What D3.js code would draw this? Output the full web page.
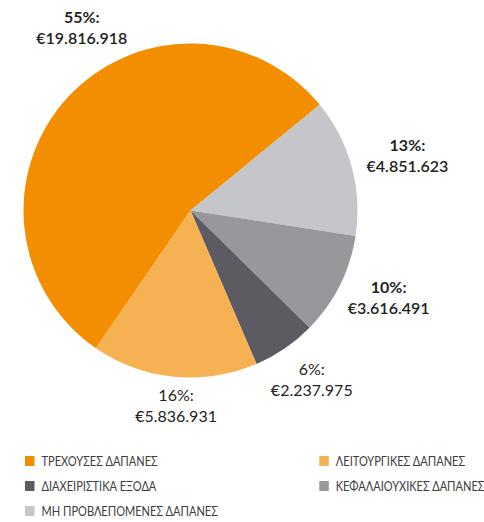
<!DOCTYPE html>
<html>
<head>
<meta charset="utf-8">
<script src="https://cdn.jsdelivr.net/npm/d3@7"></script>
<style>
  html, body { margin: 0; padding: 0; background: #ffffff; }
  svg { display: block; }
</style>
</head>
<body>
<svg id="chart" width="484" height="522"></svg>
<script>
// ---- data ----
const categories = [
  "ΤΡΕΧΟΥΣΕΣ ΔΑΠΑΝΕΣ",
  "ΜΗ ΠΡΟΒΛΕΠΟΜΕΝΕΣ ΔΑΠΑΝΕΣ",
  "ΚΕΦΑΛΑΙΟΥΧΙΚΕΣ ΔΑΠΑΝΕΣ",
  "ΔΙΑΧΕΙΡΙΣΤΙΚΑ ΕΞΟΔΑ",
  "ΛΕΙΤΟΥΡΓΙΚΕΣ ΔΑΠΑΝΕΣ"
];
const values = [19816918, 4851623, 3616491, 2237975, 5836931];
const percentLabels = ["55%:", "13%:", "10%:", "6%:", "16%:"];
const valueLabels = ["€19.816.918", "€4.851.623", "€3.616.491", "€2.237.975", "€5.836.931"];
const legendOrder = [
  "ΤΡΕΧΟΥΣΕΣ ΔΑΠΑΝΕΣ",
  "ΛΕΙΤΟΥΡΓΙΚΕΣ ΔΑΠΑΝΕΣ",
  "ΔΙΑΧΕΙΡΙΣΤΙΚΑ ΕΞΟΔΑ",
  "ΚΕΦΑΛΑΙΟΥΧΙΚΕΣ ΔΑΠΑΝΕΣ",
  "ΜΗ ΠΡΟΒΛΕΠΟΜΕΝΕΣ ΔΑΠΑΝΕΣ"
];

// ---- styles / layout ----
const colors = ["#f28e00", "#c5c6c9", "#98979c", "#5c5b61", "#f5b152"];
const boldFirst = [true, true, true, false, false];
// label anchor: polar (radius, angle in degrees clockwise from 12 o'clock)
const labelPolar = [[208, 328.5], [222.5, 77.2], [219, 115.2], [213, 145.3], [202, 184.1]];
const cx = 190.5, cy = 210.5, R = 167;
const fontFamily = "Lato, 'Open Sans', sans-serif";

const svg = d3.select("#chart");
const color = d3.scaleOrdinal().domain(categories).range(colors);

const pie = d3.pie().sort(null).value(d => d.value)
  .startAngle(214.5 * Math.PI / 180)
  .endAngle((214.5 + 360) * Math.PI / 180);
const data = categories.map((c, i) => ({ cat: c, value: values[i], i }));
const arcs = pie(data);
const arc = d3.arc().innerRadius(0).outerRadius(R);

const g = svg.append("g").attr("transform", `translate(${cx},${cy})`);
g.selectAll("path").data(arcs).join("path")
  .attr("d", arc)
  .attr("fill", d => color(d.data.cat));

// labels
const lab = g.selectAll("g.lab").data(arcs).join("g").attr("class", "lab")
  .attr("transform", d => {
    const [r, a] = labelPolar[d.data.i];
    const rad = a * Math.PI / 180;
    return `translate(${r * Math.sin(rad)},${-r * Math.cos(rad)})`;
  });
lab.append("text")
  .attr("text-anchor", "middle")
  .attr("y", -10.5)
  .attr("font-family", fontFamily)
  .attr("font-size", 16)
  .attr("font-weight", d => boldFirst[d.data.i] ? 700 : 400)
  .attr("fill", "#231f20")
  .text(d => percentLabels[d.data.i]);
lab.append("text")
  .attr("text-anchor", "middle")
  .attr("y", 10.5)
  .attr("font-family", fontFamily)
  .attr("font-size", 16)
  .attr("font-weight", d => boldFirst[d.data.i] ? 600 : 400)
  .attr("fill", "#231f20")
  .text(d => valueLabels[d.data.i]);

// legend
const colX = [25, 319.3];
const rowY = [456, 481, 506];
const leg = svg.append("g").selectAll("g").data(legendOrder).join("g")
  .attr("transform", (d, i) => `translate(${colX[i % 2]},${rowY[Math.floor(i / 2)]})`);
leg.append("rect").attr("width", 9.5).attr("height", 10).attr("fill", d => color(d));
leg.append("text")
  .attr("transform", "translate(16.5,10) scale(0.85,1)")
  .attr("font-family", fontFamily)
  .attr("font-size", 13)
  .attr("fill", "#3c3c3c")
  .text(d => d);
</script>
</body>
</html>
